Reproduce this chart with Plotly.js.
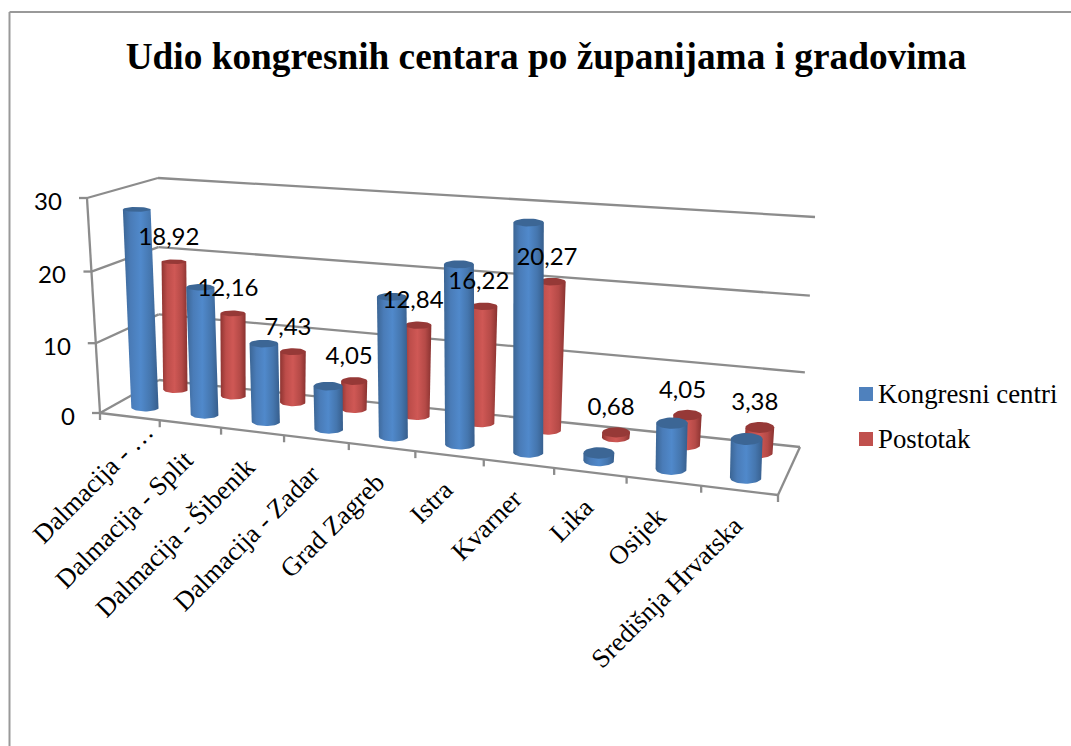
<!DOCTYPE html>
<html><head><meta charset="utf-8">
<script src="https://cdn.plot.ly/plotly-3.0.1.min.js"></script>
<style>html,body{margin:0;padding:0;background:#fff}#c{width:1071px;height:746px}</style>
</head><body><div id="c"></div>
<script>
const categories = ["Dalmacija - …","Dalmacija - Split","Dalmacija - Šibenik","Dalmacija - Zadar","Grad Zagreb","Istra","Kvarner","Lika","Osijek","Središnja Hrvatska"];
const kongresniCentri = [28,18,11,6,19,24,30,1,6,5];
const postotak = [18.92,12.16,7.43,4.05,12.84,16.22,20.27,0.68,4.05,3.38];
const yTicks = [0,10,20,30];
const yMax = 30;
const seriesNames = ["Kongresni centri","Postotak"];

// Oblique projection of the chart box (t along categories, v in depth, h in value)
const corners = {
  f0:[100,413], f1:[778,495], b0:[159,380], b1:[800,447],
  F0:[87,198],  F1:[781,250], B0:[158,178], B1:[815,217]
};
const persp = (t,w) => t/(t+w*(1-t));
const mix = (a,b,k) => [a[0]+(b[0]-a[0])*k, a[1]+(b[1]-a[1])*k];
function P(t,v,h){
  const u = persp(t,1.15), k = persp(h/yMax,1.04);
  const bottom = mix(mix(corners.f0,corners.f1,u), mix(corners.b0,corners.b1,u), v);
  const top = mix(mix(corners.F0,corners.F1,u), mix(corners.B0,corners.B1,u), v);
  return mix(bottom,top,k);
}

const GRID = '#8c8c8c';
const traces = [];
const shapes = [];
const annotations = [];
function line(a,b,w){
  traces.push({type:'scatter',mode:'lines',x:[a[0],b[0]],y:[a[1],b[1]],
    line:{color:GRID,width:w||2.3},hoverinfo:'skip',showlegend:false});
}
// walls, gridlines, ticks
yTicks.forEach(h=>{
  const a=P(0,0,h), b=P(0,1,h), c=P(1,1,h);
  line(a,b); line(b,c);
  line([a[0]-8,a[1]],a);
  annotations.push({x:a[0]-23,y:a[1]+2,xref:'x',yref:'y',text:String(h),showarrow:false,
    xanchor:'right',yanchor:'middle',font:{family:'Lato',size:24,color:'#000'}});
});
line(P(0,0,0),P(0,0,yMax));
line(P(0,0,0),P(1,0,0));
line(P(1,0,0),P(1,1,0));
categories.forEach((c,i)=>{
  const t=i/categories.length, a=P(t,0,0);
  line(a,[a[0],a[1]+7]);
  const m=P((i+.5)/categories.length,0,0);
  // the truncated first label sits further along its own slant
  const nudge = i===0 ? 20 : 0;
  annotations.push({x:m[0]+12+nudge,y:m[1]+17-nudge,xref:'x',yref:'y',text:c,showarrow:false,textangle:-45,
    xanchor:'right',yanchor:'top',font:{family:'Liberation Serif',size:26.5,color:'#000'}});
});
const end=P(1,0,0); line(end,[end[0],end[1]+7]);

function ellipse(cx,cy,rx,ry,from,to,n){
  const xs=[],ys=[];
  for(let j=0;j<=n;j++){const a=from+(to-from)*j/n; xs.push(cx+rx*Math.cos(a)); ys.push(cy+ry*Math.sin(a));}
  return [xs,ys];
}
function cylinder(t,v,h,wBase,scale,cap,ryTrim){
  const p0=P(t,v,0), p1=P(t,v,h);
  const rx=(wBase+4.5*t)/2;
  const ry0=2.2+2.6*t+1.6-ryTrim, ry1=2.2+2.6*t+1.6*(1-h/yMax)-ryTrim;
  const [bx,by]=ellipse(p0[0],p0[1],rx,ry0,0,Math.PI,24);
  traces.push({type:'scatter',mode:'lines',
    x:[p1[0]+rx,...bx,p1[0]-rx,p1[0]+rx],
    y:[p1[1],...by,p1[1],p1[1]],
    fill:'toself',line:{width:0,color:'rgba(0,0,0,0)'},
    fillgradient:{type:'horizontal',colorscale:scale},
    hoverinfo:'skip',showlegend:false});
  const [tx,ty]=ellipse(p1[0],p1[1],rx,ry1,0,2*Math.PI,40);
  traces.push({type:'scatter',mode:'lines',x:tx,y:ty,fill:'toself',fillcolor:cap,
    line:{width:0,color:'rgba(0,0,0,0)'},hoverinfo:'skip',showlegend:false});
}
const blueScale=[[0,'#3b6594'],[.22,'#4a7cb8'],[.5,'#5089cb'],[.78,'#4576ae'],[1,'#375e8c']];
const redScale=[[0,'#8e3431'],[.22,'#bd4d4a'],[.5,'#cf5855'],[.78,'#b54a47'],[1,'#893230']];
const tc=i=>(i+.5)/categories.length;
postotak.forEach((h,i)=>cylinder(tc(i),.8,h,24.5,redScale,'#963937',0.6));
kongresniCentri.forEach((h,i)=>cylinder(tc(i),.27,h,27.5,blueScale,'#3c6695',0));

// data labels of the Postotak series
const tops=postotak.map((h,i)=>P(tc(i),.8,h));
traces.push({type:'scatter',mode:'text',x:tops.map(p=>p[0]-5),y:tops.map(p=>p[1]-23),
  text:postotak.map(v=>v.toFixed(2).replace('.',',')),textposition:'middle center',
  textfont:{family:'Lato',size:24,color:'#000'},hoverinfo:'skip',showlegend:false});

// legend keys and labels
const legendColors=['#4f81bd','#c0504d'];
const legendRows=[394,439];
traces.push({type:'scatter',mode:'markers',x:[866,866],y:legendRows,
  marker:{symbol:'square',size:14,color:legendColors},hoverinfo:'skip',showlegend:false});
seriesNames.forEach((n,i)=>annotations.push({x:876,y:legendRows[i],xref:'x',yref:'y',text:n,showarrow:false,
  xanchor:'left',yanchor:'middle',font:{family:'Liberation Serif',size:26.8,color:'#000'}}));

shapes.push({type:'line',xref:'x',yref:'y',x0:9.5,y0:12,x1:9.5,y1:746,line:{color:'#999',width:2}});
shapes.push({type:'line',xref:'x',yref:'y',x0:9.5,y0:12,x1:1071,y1:12,line:{color:'#999',width:2}});

Plotly.newPlot('c',traces,{
  width:1071,height:746,margin:{l:0,r:0,t:0,b:0,pad:0},paper_bgcolor:'#fff',plot_bgcolor:'#fff',
  title:{text:'<b>Udio kongresnih centara po županijama i gradovima</b>',x:546/1071,xanchor:'center',xref:'paper',
    y:1-56/746,yanchor:'middle',yref:'paper',font:{family:'Liberation Serif',size:37.3,color:'#000'}},
  xaxis:{range:[0,1071],visible:false,fixedrange:true},
  yaxis:{range:[746,0],visible:false,fixedrange:true},
  showlegend:false,
  shapes,annotations
},{displayModeBar:false,staticPlot:true});
</script></body></html>
